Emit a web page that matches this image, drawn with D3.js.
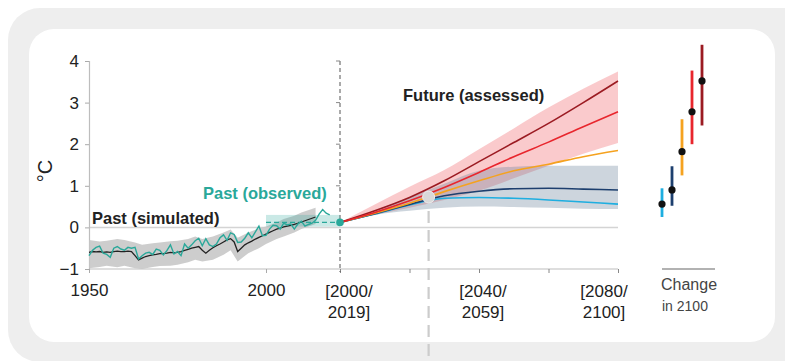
<!DOCTYPE html>
<html><head><meta charset="utf-8">
<script src="https://cdn.jsdelivr.net/npm/d3@7"></script>
<style>html,body{margin:0;padding:0;background:#fff;}svg{display:block;font-family:"Liberation Sans",Arial,sans-serif;}</style>
</head><body><svg id="chart" width="785" height="361"></svg>
<script>
// ---------- DATA ----------
const pastYears = d3.range(1950, 2019);
const observed = [-0.68,-0.55,-0.48,-0.45,-0.62,-0.65,-0.72,-0.50,-0.46,-0.52,
  -0.55,-0.48,-0.50,-0.48,-0.76,-0.68,-0.62,-0.60,-0.65,-0.52,
  -0.55,-0.66,-0.56,-0.42,-0.64,-0.58,-0.68,-0.40,-0.50,-0.42,
  -0.32,-0.26,-0.44,-0.27,-0.42,-0.46,-0.40,-0.25,-0.18,-0.31,
  -0.13,-0.17,-0.36,-0.35,-0.26,-0.13,-0.25,-0.11,0.03,-0.20,
  -0.19,-0.04,0.05,0.04,-0.04,0.10,0.06,0.08,-0.04,0.08,
  0.15,0.03,0.07,0.10,0.17,0.32,0.43,0.34,0.30];
const simYears = d3.range(1950, 2015);
const simulated = [-0.60,-0.58,-0.59,-0.58,-0.60,-0.59,-0.60,-0.58,-0.57,-0.58,
  -0.58,-0.57,-0.58,-0.68,-0.78,-0.74,-0.70,-0.68,-0.66,-0.65,
  -0.63,-0.63,-0.62,-0.60,-0.61,-0.60,-0.58,-0.55,-0.53,-0.50,
  -0.48,-0.46,-0.55,-0.62,-0.55,-0.49,-0.44,-0.40,-0.35,-0.30,
  -0.27,-0.35,-0.58,-0.50,-0.42,-0.37,-0.33,-0.28,-0.24,-0.20,
  -0.16,-0.12,-0.08,-0.04,-0.02,0.01,0.03,0.05,0.07,0.10,
  0.13,0.16,0.19,0.22,0.25];
const simBandYears = [1950,1953,1955,1958,1960,1963,1965,1968,1970,1973,1975,1978,1980,1982,1985,1988,1990,1992,1995,1998,2000,2003,2005,2008,2010,2014];
const simUpper = [-0.30,-0.34,-0.32,-0.28,-0.30,-0.36,-0.42,-0.38,-0.36,-0.33,-0.32,-0.28,-0.22,-0.28,-0.22,-0.12,-0.05,-0.25,-0.12,-0.02,0.02,0.12,0.20,0.28,0.36,0.47];
const simLower = [-0.98,-0.95,-0.92,-0.96,-0.92,-0.98,-1.00,-0.95,-0.93,-0.92,-0.90,-0.84,-0.78,-0.82,-0.78,-0.66,-0.55,-0.82,-0.62,-0.50,-0.40,-0.28,-0.22,-0.12,-0.04,0.08];
const obsRecentRange = [0.02, 0.30];   // 2000-2019 observed box
const obsRecentMean = 0.12;

const futYears = [2010,2020,2030,2040,2050,2060,2070,2080,2090];
const ssp119 = [0.12,0.32,0.54,0.70,0.72,0.70,0.66,0.61,0.56];
const ssp126 = [0.12,0.33,0.55,0.76,0.87,0.93,0.94,0.92,0.90];
const ssp245 = [0.12,0.34,0.58,0.86,1.12,1.36,1.52,1.70,1.85];
const ssp370 = [0.12,0.36,0.64,0.96,1.32,1.70,2.05,2.42,2.78];
const ssp585 = [0.12,0.40,0.72,1.12,1.58,2.04,2.50,3.00,3.52];
const redUpper = [0.12,0.55,0.98,1.38,1.88,2.38,2.88,3.33,3.75];
const redLower = [0.12,0.30,0.47,0.66,0.88,1.18,1.48,1.77,2.03];
const grayUpper = [0.12,0.40,0.72,1.05,1.36,1.46,1.48,1.48,1.48];
const grayLower = [0.12,0.30,0.40,0.47,0.50,0.49,0.47,0.45,0.44];
const markerYear = 2035.5, markerValue = 0.73;

const scenarios = ["SSP1-1.9","SSP1-2.6","SSP2-4.5","SSP3-7.0","SSP5-8.5"];
const scenColors = ["#1eaee0","#1d3f6e","#f5a21f","#e8262d","#9b1b22"];
const change2100 = [0.56,0.90,1.82,2.78,3.52];
const change2100Low = [0.25,0.52,1.25,2.00,2.45];
const change2100High = [0.94,1.47,2.60,3.77,4.39];

const yTicks = [-1,0,1,2,3,4];
const yTickLabels = ["\u22121","0","1","2","3","4"];
const pastTicks = [1950,2000];
const futTicks = [2010,2030,2050,2070,2090];
const futLabels = [["[2000/","2019]"],["[2040/","2059]"],["[2080/","2100]"]];
const futLabelYears = [2010,2050,2090];

// ---------- DRAW ----------
const svg = d3.select("#chart");
svg.append("rect").attr("x",8).attr("y",8).attr("width",820).attr("height",354).attr("rx",32).attr("fill","#eeeeee");
svg.append("rect").attr("x",29).attr("y",29).attr("width",746).attr("height",313).attr("rx",25).attr("fill","#ffffff");

const y = d3.scaleLinear().domain([-1,4]).range([269,61]);
const xP = d3.scaleLinear().domain([1950,2000]).range([89,266]);
const xF = d3.scaleLinear().domain([2010,2090]).range([340,618]);
const xR = d3.scalePoint().domain(scenarios).range([662,702]);

// zero line
svg.append("line").attr("x1",89).attr("x2",618).attr("y1",y(0)).attr("y2",y(0)).attr("stroke","#d4d4d4").attr("stroke-width",1.5);

// y axis
const yAx = svg.append("g").attr("transform","translate(89,0)")
  .call(d3.axisLeft(y).tickValues(yTicks).tickSize(4).tickFormat((d,i)=>yTickLabels[i]));
yAx.select(".domain").attr("stroke","#bdbdbd").attr("stroke-width",1.2);
yAx.selectAll(".tick line").attr("stroke","#aaa");
yAx.selectAll(".tick text").attr("font-size",17).attr("fill","#222").attr("x",-10).attr("font-family","Liberation Sans, Arial");

// bottom axis line
svg.append("line").attr("x1",89).attr("x2",618).attr("y1",269).attr("y2",269).attr("stroke","#bdbdbd").attr("stroke-width",1.2);
const pAx = svg.append("g").attr("transform","translate(0,269)")
  .call(d3.axisBottom(xP).tickValues(pastTicks).tickSize(4).tickFormat(d3.format("d")));
pAx.select(".domain").remove();
pAx.selectAll(".tick line").attr("stroke","#aaa");
pAx.selectAll(".tick text").attr("font-size",17).attr("fill","#222").attr("dy","1.15em").attr("font-family","Liberation Sans, Arial");
const fAx = svg.append("g").attr("transform","translate(0,269)")
  .call(d3.axisBottom(xF).tickValues(futTicks).tickSize(4).tickFormat(""));
fAx.select(".domain").remove();
fAx.selectAll(".tick line").attr("stroke","#888");

const labOff = [9,4,-14];
futLabels.forEach((lines,i)=>{
  const t = svg.append("text").attr("font-size",17).attr("fill","#222").attr("text-anchor","middle");
  lines.forEach((s,j)=>t.append("tspan").attr("x",xF(futLabelYears[i])+labOff[i]).attr("y",297+j*21).text(s));
});

// dashed divider
svg.append("line").attr("x1",340).attr("x2",340).attr("y1",y(4)).attr("y2",272).attr("stroke","#555").attr("stroke-width",1).attr("stroke-dasharray","4,3");
svg.append("g").selectAll("line").data(yTicks.slice(2)).join("line")
  .attr("x1",336).attr("x2",340).attr("y1",d=>y(d)).attr("y2",d=>y(d)).attr("stroke","#888");

// y title
svg.append("text").attr("transform","translate(52,171) rotate(-90)").attr("text-anchor","middle").attr("font-size",20).attr("fill","#222").text("\u00B0C");

// past simulated band
const simBand = simBandYears.map((yr,i)=>({x:yr,lo:simLower[i],hi:simUpper[i]}));
svg.append("path").datum(simBand).attr("fill","#c4c4c4").attr("opacity",0.85)
  .attr("d",d3.area().x(d=>xP(d.x)).y0(d=>y(d.lo)).y1(d=>y(d.hi)).curve(d3.curveLinear));

// observed recent box
svg.append("rect").attr("x",xP(2000)).attr("width",340-xP(2000)).attr("y",y(obsRecentRange[1])).attr("height",y(obsRecentRange[0])-y(obsRecentRange[1]))
  .attr("fill","#2aa89a").attr("opacity",0.25);
svg.append("line").attr("x1",xP(2000)).attr("x2",338).attr("y1",y(obsRecentMean)).attr("y2",y(obsRecentMean))
  .attr("stroke","#2aa89a").attr("stroke-width",1.3).attr("stroke-dasharray","5,3");

// simulated line
svg.append("path").datum(simYears.map((yr,i)=>[yr,simulated[i]])).attr("fill","none").attr("stroke","#222").attr("stroke-width",1.3)
  .attr("d",d3.line().x(d=>xP(d[0])).y(d=>y(d[1])));
// observed line
svg.append("path").datum(pastYears.map((yr,i)=>[yr,observed[i]])).attr("fill","none").attr("stroke","#2aa89a").attr("stroke-width",1.4)
  .attr("d",d3.line().x(d=>xP(d[0])).y(d=>y(d[1])));

// future bands
const curve = d3.curveMonotoneX;
svg.append("path").datum(futYears.map((yr,i)=>({x:yr,lo:redLower[i],hi:redUpper[i]}))).attr("fill","#ef5a60").attr("opacity",0.32)
  .attr("d",d3.area().x(d=>xF(d.x)).y0(d=>y(d.lo)).y1(d=>y(d.hi)).curve(curve));
svg.append("path").datum(futYears.map((yr,i)=>({x:yr,lo:grayLower[i],hi:grayUpper[i]}))).attr("fill","#667f99").attr("opacity",0.33)
  .attr("d",d3.area().x(d=>xF(d.x)).y0(d=>y(d.lo)).y1(d=>y(d.hi)).curve(curve));

// future lines
const series = [ssp119,ssp126,ssp245,ssp585,ssp370];
const sColors = [scenColors[0],scenColors[1],scenColors[2],scenColors[4],scenColors[3]];
series.forEach((s,k)=>{
  svg.append("path").datum(futYears.map((yr,i)=>[yr,s[i]])).attr("fill","none").attr("stroke",sColors[k]).attr("stroke-width",1.6)
    .attr("d",d3.line().x(d=>xF(d[0])).y(d=>y(d[1])).curve(curve));
});

// marker + dashed drop line
svg.append("line").attr("x1",xF(markerYear)).attr("x2",xF(markerYear)).attr("y1",y(markerValue)+14).attr("y2",361)
  .attr("stroke","#cccccc").attr("stroke-width",2.2).attr("stroke-dasharray","12,7");
svg.append("circle").attr("cx",xF(markerYear)).attr("cy",y(markerValue)).attr("r",6).attr("fill","#d9d9d9").attr("stroke","#eeeeee").attr("stroke-width",1);

// teal junction dot
svg.append("circle").attr("cx",340).attr("cy",y(obsRecentMean)).attr("r",3.8).attr("fill","#2aa89a");

// labels
svg.append("text").attr("x",92).attr("y",224).attr("font-size",16.5).attr("font-weight","bold").attr("fill","#222").text("Past (simulated)");
svg.append("text").attr("x",203).attr("y",199).attr("font-size",16.5).attr("font-weight","bold").attr("fill","#2aa89a").text("Past (observed)");
svg.append("text").attr("x",403).attr("y",101).attr("font-size",16.5).attr("font-weight","bold").attr("fill","#222").text("Future (assessed)");

// change in 2100
const g = svg.append("g");
g.selectAll("line.bar").data(scenarios).join("line").attr("class","bar")
  .attr("x1",d=>xR(d)).attr("x2",d=>xR(d)).attr("y1",(d,i)=>y(change2100Low[i])).attr("y2",(d,i)=>y(change2100High[i]))
  .attr("stroke",(d,i)=>scenColors[i]).attr("stroke-width",2.8);
g.selectAll("circle").data(scenarios).join("circle").attr("cx",d=>xR(d)).attr("cy",(d,i)=>y(change2100[i])).attr("r",3.6).attr("fill","#111");
svg.append("line").attr("x1",662).attr("x2",715).attr("y1",269).attr("y2",269).attr("stroke","#999").attr("stroke-width",1.3);
svg.append("text").attr("x",661).attr("y",290).attr("font-size",16).attr("fill","#444").text("Change");
svg.append("text").attr("x",662).attr("y",311).attr("font-size",14).attr("fill","#444").text("in 2100");
</script></body></html>
